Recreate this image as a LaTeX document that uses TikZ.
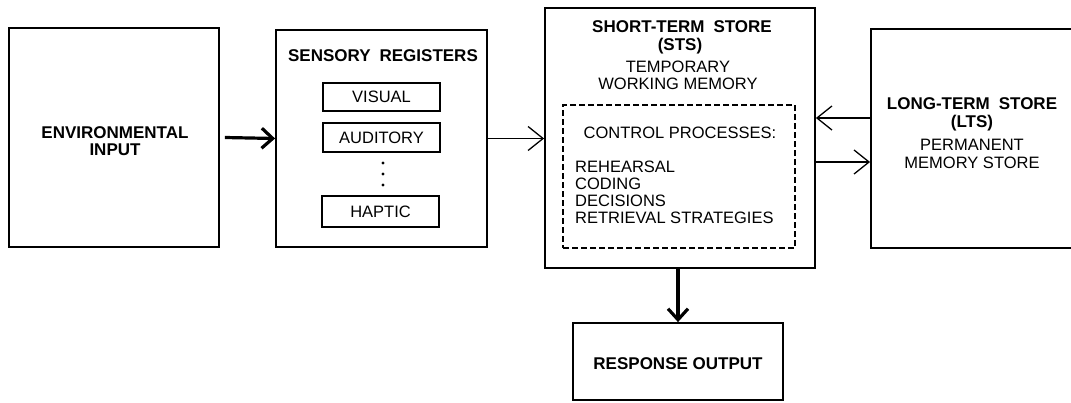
\documentclass[tikz,border=0pt]{standalone}
\usepackage{fontspec}
\setmainfont{Liberation Sans}
\usetikzlibrary{arrows.meta}
\begin{document}
\begin{tikzpicture}[x=1pt,y=-1pt,
  box/.style={draw, line width=1.8pt, inner sep=0pt},
  sub/.style={draw, line width=1.5pt, inner sep=0pt, minimum width=117pt,
    font=\fontsize{16.5}{17}\selectfont, text height=11.8pt, text depth=0pt},
  bt/.style={inner sep=0pt, font=\fontsize{17}{17}\selectfont\bfseries, text height=12.2pt, text depth=0pt},
  rt/.style={inner sep=0pt, font=\fontsize{16.5}{17}\selectfont, text height=11.8pt, text depth=0pt},
  thinarrow/.style={line width=1.3pt, -{Straight Barb[length=15pt,width=24pt]}},
  thickarrow/.style={line width=3.2pt, -{Straight Barb[length=11pt,width=20pt]}},
  dot/.style={circle, fill, inner sep=0pt, minimum size=3.4pt}]
\clip (0,0) rectangle (1071,402);
\fill[white] (0,0) rectangle (1071,402);
% boxes
\node[box, minimum width=210pt, minimum height=219pt] (env) at (114,137.5) {};
\node[box, minimum width=211pt, minimum height=217pt] (sens) at (381.5,138.5) {};
\node[box, minimum width=270pt, minimum height=260pt] (sts) at (680,138) {};
\node[box, dashed, dash pattern=on 6pt off 3pt, minimum width=232pt, minimum height=143pt] (ctrl) at (679,176.5) {};
\node[box, minimum width=219pt, minimum height=219pt] (lts) at (980.5,138.5) {};
\node[box, minimum width=210pt, minimum height=77pt] (resp) at (678,361.5) {};
% environmental input
\node[bt] (env1) at (115,132) {ENVIRONMENTAL};
\node[bt] (env2) at (115,149) {INPUT};
% sensory registers
\node[bt] (senst) at (383,55) {SENSORY\hspace{0.25em} REGISTERS};
\node[sub, minimum height=28pt] (vis) at (381.5,97) {VISUAL};
\node[sub, minimum height=29pt] (aud) at (381.5,137.5) {AUDITORY};
\node[sub, minimum height=31pt] (hap) at (380.5,211.5) {HAPTIC};
\node[dot] (d1) at (383,163) {};
\node[dot] (d2) at (383,174) {};
\node[dot] (d3) at (383,185) {};
% short-term store
\node[bt] (sts1) at (682,26) {SHORT-TERM\hspace{0.25em} STORE};
\node[bt] (sts2) at (680,44) {(STS)};
\node[rt] (sts3) at (678,67) {TEMPORARY};
\node[rt] (sts4) at (678,84) {WORKING MEMORY};
\node[rt] (cp0) at (680,133) {CONTROL PROCESSES:};
\node[rt, anchor=west] (cp1) at (575,167) {REHEARSAL};
\node[rt, anchor=west] (cp2) at (575,184) {CODING};
\node[rt, anchor=west] (cp3) at (575,201) {DECISIONS};
\node[rt, anchor=west] (cp4) at (575,218) {RETRIEVAL STRATEGIES};
% long-term store
\node[bt] (lts1) at (972,103) {LONG-TERM\hspace{0.25em} STORE};
\node[bt] (lts2) at (972,121) {(LTS)};
\node[rt] (lts3) at (972,145) {PERMANENT};
\node[rt] (lts4) at (972,163) {MEMORY STORE};
% response
\node[bt] (resp1) at (678,363) {RESPONSE OUTPUT};
% connectors
\draw[thickarrow] ([xshift=5pt]env.east) -- (sens.west);
\draw[thinarrow] (sens.east) -- (sens.east -| sts.west);
\draw[thinarrow] ([yshift=20.5pt]lts.west) -- ([yshift=20.5pt]lts.west -| sts.east);
\draw[thinarrow] ([yshift=-23.5pt]lts.west -| sts.east) -- ([yshift=-23.5pt]lts.west);
\draw[thickarrow] (resp.north |- sts.south) -- (resp.north);
\end{tikzpicture}
\end{document}
